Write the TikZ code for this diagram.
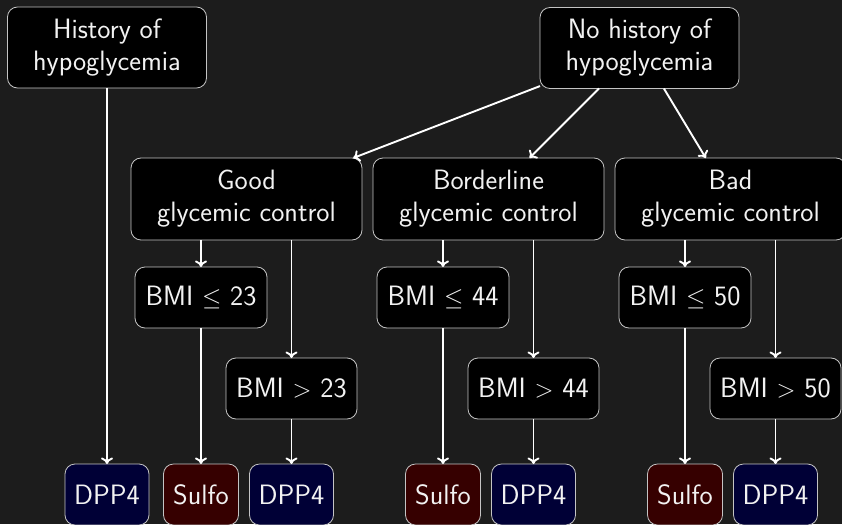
\documentclass[tikz,border=0pt]{standalone}
\usetikzlibrary{arrows.meta}
\definecolor{bgdark}{HTML}{1C1C1C}
\definecolor{boxline}{HTML}{C4C4C4}
\definecolor{dppfill}{HTML}{000036}
\definecolor{sulfofill}{HTML}{360000}
\definecolor{textlight}{HTML}{F2F2F2}
\begin{document}
\begin{tikzpicture}[x=1pt,y=-1pt,
  every node/.style={font=\sffamily\fontsize{28}{32}\selectfont, text=textlight},
  box/.style={draw=boxline, line width=0.8pt, fill=black, rounded corners=10pt,
    align=center, inner sep=0pt, outer sep=0pt},
  bigbox/.style={box, minimum height=81pt},
  bmibox/.style={box, minimum height=61pt},
  drug/.style={box, minimum height=61pt},
  dpp/.style={drug, fill=dppfill, minimum width=84pt},
  sulfo/.style={drug, fill=sulfofill, minimum width=75pt},
  arr/.style={draw=white, line width=1.9pt, -{To[length=6.5pt,width=12pt]}}
]
\clip (0,0) rectangle (842,524);
\fill[bgdark] (0,0) rectangle (842,524);

% top level: hypoglycemia history
\node[bigbox, minimum width=199pt] (hist) at (107,47.5) {History of\\hypoglycemia};
\node[bigbox, minimum width=199pt] (nohist) at (639.5,48) {No history of\\hypoglycemia};

% glycemic control groups
\node[bigbox, minimum width=231pt, minimum height=82pt] (good) at (246.5,199) {Good\\glycemic control};
\node[bigbox, minimum width=231pt, minimum height=82pt] (border) at (488.5,199) {Borderline\\glycemic control};
\node[bigbox, minimum width=231pt, minimum height=82pt] (bad) at (730.5,199) {Bad\\glycemic control};

% BMI thresholds
\node[bmibox, minimum width=132pt] (le23) at (201,297.5) {BMI $\leq$ 23};
\node[bmibox, minimum width=131pt] (gt23) at (291.5,388.5) {BMI $>$ 23};
\node[bmibox, minimum width=132pt] (le44) at (443,297.5) {BMI $\leq$ 44};
\node[bmibox, minimum width=131pt] (gt44) at (533.5,388.5) {BMI $>$ 44};
\node[bmibox, minimum width=132pt] (le50) at (685,297.5) {BMI $\leq$ 50};
\node[bmibox, minimum width=131pt] (gt50) at (775.5,388.5) {BMI $>$ 50};

% treatments
\node[dpp] (dppA) at (107,494.5) {DPP4};
\node[sulfo] (sulfoA) at (201,494.5) {Sulfo};
\node[dpp] (dppB) at (291.5,494.5) {DPP4};
\node[sulfo] (sulfoB) at (443,494.5) {Sulfo};
\node[dpp] (dppC) at (533.5,494.5) {DPP4};
\node[sulfo] (sulfoC) at (685,494.5) {Sulfo};
\node[dpp] (dppD) at (775.5,494.5) {DPP4};

% connectors
\draw[arr] (hist) -- (dppA);
\draw[arr] (nohist) -- (good);
\draw[arr] (nohist) -- (border);
\draw[arr] (nohist) -- (bad);

\draw[arr] (good.south -| le23.north) -- (le23.north);
\draw[arr] (good.south -| gt23.north) -- (gt23.north);
\draw[arr] (border.south -| le44.north) -- (le44.north);
\draw[arr] (border.south -| gt44.north) -- (gt44.north);
\draw[arr] (bad.south -| le50.north) -- (le50.north);
\draw[arr] (bad.south -| gt50.north) -- (gt50.north);

\draw[arr] (le23) -- (sulfoA);
\draw[arr] (gt23) -- (dppB);
\draw[arr] (le44) -- (sulfoB);
\draw[arr] (gt44) -- (dppC);
\draw[arr] (le50) -- (sulfoC);
\draw[arr] (gt50) -- (dppD);
\end{tikzpicture}
\end{document}
